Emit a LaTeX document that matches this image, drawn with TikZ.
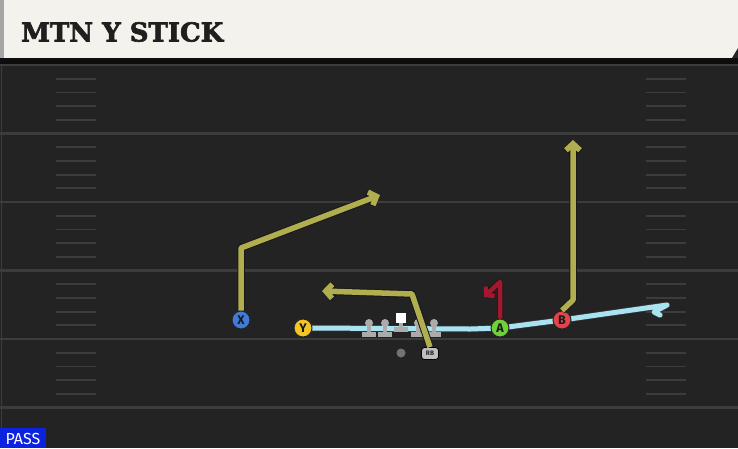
\documentclass[tikz,border=0pt]{standalone}
\usepackage{fontspec}
\newfontfamily\titlefont{DejaVu Serif}[BoldFeatures={FakeBold=2.5}]
\newfontfamily\markfont{Fira Sans}
\usetikzlibrary{arrows.meta,positioning,calc,backgrounds}

\definecolor{fieldbg}{HTML}{232323}
\definecolor{yardline}{HTML}{3C3C3C}
\definecolor{banner}{HTML}{F4F2EC}
\definecolor{routeolive}{HTML}{B0AE4E}
\definecolor{routered}{HTML}{A3182F}
\definecolor{motioncyan}{HTML}{A9E3F2}
\definecolor{xblue}{HTML}{3F7CD8}
\definecolor{yyellow}{HTML}{F3C428}
\definecolor{agreen}{HTML}{6FD03A}
\definecolor{bred}{HTML}{E5434B}
\definecolor{linegray}{HTML}{ABABAB}
\definecolor{passblue}{HTML}{0B22E0}

\tikzset{
  player/.style={circle, draw=black!85, line width=1pt, minimum size=18pt, inner sep=0pt,
    text=black!90, font=\markfont\bfseries\fontsize{12.5}{12.5}\selectfont},
  route/.style={line width=5.5pt, draw=routeolive, line join=round,
    preaction={draw=black!90, line width=7.5pt, line join=round}},
  blockroute/.style={line width=4.5pt, draw=routered, line join=round,
    preaction={draw=black!90, line width=6pt, line join=round}},
  tip/.style={-{Straight Barb[length=6.5pt,width=14pt]}},
  hashmark/.style={yardline, line width=1.8pt},
  yard/.style={yardline, line width=2.2pt}
}

\begin{document}
\begin{tikzpicture}[x=1pt, y=-1pt]
  \useasboundingbox (0,0) rectangle (738,448);

  % Field
  \begin{scope}[on background layer]
  \fill[fieldbg] (0,0) rectangle (738,448);
  \draw[yardline, line width=1pt] (1.5,63) -- (1.5,448);
  \foreach \yl in {65,133.5,202,270.5,339,407.5}
    \draw[yard] (0,\yl) -- (738,\yl);
  \foreach \yl in {65,133.5,202,270.5,339}
    \foreach \k in {1,2,3,4} {
      \draw[hashmark] (56,\yl+13.7*\k) -- (96,\yl+13.7*\k);
      \draw[hashmark] (646,\yl+13.7*\k) -- (686,\yl+13.7*\k);
    }
  \end{scope}

  % Title banner
  \fill[black!95] (0,57) rectangle (738,64);
  \fill[banner] (4,0) rectangle (738,58);
  \fill[black!35] (0,0) rectangle (4,58);
  \fill[black!85] (738,48) -- (738,58) -- (732,58) -- cycle;
  \node[anchor=west, text=black!88, inner sep=0pt,
    font=\titlefont\bfseries\fontsize{26}{26}\selectfont]
    (title) at (21,32) {MTN Y STICK};

  % Players
  \node[player, fill=xblue] (X) at (241,320) {X};
  \node[player, fill=yyellow] (Y) at (303,328) {Y};
  \node[player, fill=agreen] (A) at (500,328) {A};
  \node[player, fill=bred] (B) at (562,320) {B};
  \node[circle, fill=black!55, minimum size=9pt, inner sep=0pt] (QB) at (401,353) {};
  \node[draw=black, line width=0.8pt, fill=black!25, rounded corners=3pt, minimum width=17pt,
    minimum height=12pt, inner sep=0pt, text=black!85,
    font=\markfont\bfseries\fontsize{6.5}{6.5}\selectfont]
    (RB) at (430,353.5) {RB};

  % Motion
  \coordinate (ybend) at (470,329);
  \coordinate (mend) at (667,305);
  \begin{scope}[on background layer]
  \draw[motioncyan, line width=5pt, line join=round, line cap=round,
    preaction={draw=black!80, line width=6.5pt, line join=round, line cap=round}]
    (Y.east) -- (ybend) -- (A.center) -- (B.center) -- (mend) -- (654,312) -- (660,315);
  \end{scope}

  % Line
  \foreach \lx in {369,385,418,434} {
    \fill[linegray] (\lx,323) circle (4);
    \fill[linegray] (\lx-2,325) rectangle (\lx+2,333);
    \fill[linegray] (\lx-7,332) rectangle (\lx+7,337);
  }
  \fill[white] (396,313) rectangle (406,323);
  \fill[linegray] (399,323) rectangle (403,328);
  \fill[linegray] (394,327) rectangle (408,331.5);

  % Routes
  \coordinate (xbreak) at (241,248);
  \coordinate (xend) at (380,195);
  \draw[route, tip] (X.north) -- (xbreak) -- (xend);

  \coordinate (rbbreak) at (412,294);
  \coordinate (rbend) at (322,291);
  \draw[route, tip] (RB.north) -- (rbbreak) -- (rbend);

  \coordinate (bbreak) at (573,300);
  \coordinate (bend) at (573,140);
  \draw[route, tip] (B.north) -- (bbreak) -- (bend);

  \coordinate (atop) at (500,282);
  \coordinate (aend) at (484,297);
  \draw[blockroute, -{Straight Barb[length=5.5pt,width=13pt]}]
    (A.north) -- (atop) -- (aend);

  % Tag
  \fill[passblue] (0,428) rectangle (46,448);
  \node[text=white, inner sep=0pt, font=\markfont\fontsize{16}{16}\selectfont]
    (pass) at (23,439) {PASS};
\end{tikzpicture}
\end{document}
